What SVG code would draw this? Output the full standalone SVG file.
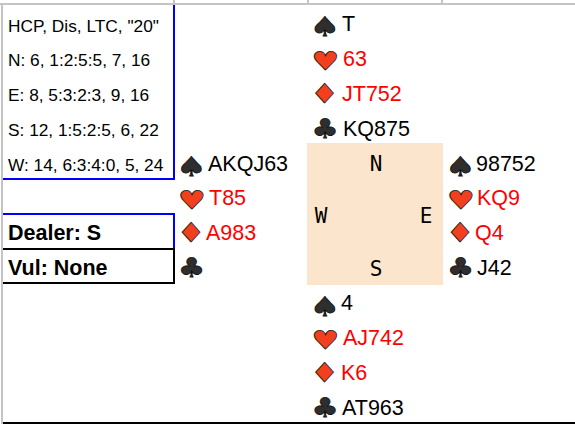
<svg xmlns="http://www.w3.org/2000/svg" width="575" height="424" viewBox="0 0 575 424">
<style>
.t{font-family:"Liberation Sans",Arial,sans-serif;font-size:21.5px;fill:#000}
.r{fill:#FF0000}
.info{font-family:"Liberation Sans",Arial,sans-serif;font-size:17.3px;fill:#000}
.bold{font-family:"Liberation Sans",Arial,sans-serif;font-size:21.5px;font-weight:bold;fill:#000}
.dir{font-family:"DejaVu Sans Mono",monospace;font-size:21px;fill:#000;text-anchor:middle}
.s{font-family:"DejaVu Sans",sans-serif;font-size:27px;text-anchor:middle;stroke-width:0.8px}
.sp{fill:#2e2e2e;stroke:#111;transform:scale(1.25,1)}
.cl{fill:#2e2e2e;stroke:#111;transform:scale(1.12,1)}
.he{fill:#F23F1E;stroke:#222;transform:scale(1.15,0.95)}
.di{fill:#F23F1E;stroke:#222;transform:scale(1.18,1)}
.grid{fill:#C4C4C4}
</style>
<rect width="575" height="424" fill="#fff"/>
<g id="grid">
<rect class="grid" x="0" y="3" width="575" height="2"/>
<rect class="grid" x="1" y="3" width="2" height="421"/>
<rect class="grid" x="173" y="0" width="2" height="4"/>
<rect class="grid" x="307" y="0" width="2" height="4"/>
<rect class="grid" x="441" y="0" width="2" height="4"/>
<rect x="3" y="422" width="572" height="2" fill="#000"/>
</g>
<g id="info-box">
<rect x="173" y="5" width="2" height="175" fill="#0000FF"/>
<rect x="3" y="178" width="172" height="2" fill="#0000FF"/>
<text class="info" x="8" y="31.5">HCP, Dis, LTC, "20"</text>
<text class="info" x="8" y="66">N: 6, 1:2:5:5, 7, 16</text>
<text class="info" x="8" y="101">E: 8, 5:3:2:3, 9, 16</text>
<text class="info" x="8" y="136">S: 12, 1:5:2:5, 6, 22</text>
<text class="info" x="8" y="171">W: 14, 6:3:4:0, 5, 24</text>
</g>
<g id="dealer-box">
<rect x="3" y="213" width="172" height="2" fill="#0000FF"/>
<rect x="173" y="213" width="2" height="36" fill="#0000FF"/>
<rect x="3" y="248" width="172" height="2" fill="#000"/>
<rect x="173" y="248" width="2" height="36" fill="#000"/>
<rect x="3" y="282" width="172" height="2" fill="#000"/>
<text class="bold" x="8" y="240.4">Dealer: S</text>
<text class="bold" x="8" y="275.3">Vul: None</text>
</g>
<g id="table">
<rect x="307" y="143" width="136" height="142" fill="#FCE5CD"/>
<text class="dir" x="376" y="170.7">N</text>
<text class="dir" x="321" y="223.3">W</text>
<text class="dir" x="426" y="223.3">E</text>
<text class="dir" x="376" y="276">S</text>
</g>
<g id="north">
<g transform="translate(324.5,36)"><text class="s sp">♠</text></g>
<g transform="translate(325.5,69.5)"><text class="s he">♥</text></g>
<g transform="translate(324.5,102.5)"><text class="s di">♦</text></g>
<g transform="translate(325,137.5)"><text class="s cl">♣</text></g>
<text class="t" x="342" y="30.7">T</text>
<text class="t r" x="343" y="65.65">63</text>
<text class="t r" x="342" y="100.6">JT752</text>
<text class="t" x="343" y="135.55">KQ875</text>
</g>
<g id="west">
<g transform="translate(191,175.8)"><text class="s sp">♠</text></g>
<g transform="translate(192,209.3)"><text class="s he">♥</text></g>
<g transform="translate(191,242.4)"><text class="s di">♦</text></g>
<g transform="translate(191.5,277.4)"><text class="s cl">♣</text></g>
<text class="t" x="208" y="170.5">AKQJ63</text>
<text class="t r" x="209" y="205.45">T85</text>
<text class="t r" x="206" y="240.4">A983</text>
</g>
<g id="east">
<g transform="translate(460,175.8)"><text class="s sp">♠</text></g>
<g transform="translate(461,209.3)"><text class="s he">♥</text></g>
<g transform="translate(460,242.4)"><text class="s di">♦</text></g>
<g transform="translate(460.5,277.4)"><text class="s cl">♣</text></g>
<text class="t" x="476" y="170.5">98752</text>
<text class="t r" x="477" y="205.45">KQ9</text>
<text class="t r" x="475" y="240.4">Q4</text>
<text class="t" x="477" y="275.35">J42</text>
</g>
<g id="south">
<g transform="translate(324.5,315.6)"><text class="s sp">♠</text></g>
<g transform="translate(325.5,349.1)"><text class="s he">♥</text></g>
<g transform="translate(324.5,382.2)"><text class="s di">♦</text></g>
<g transform="translate(325,417.2)"><text class="s cl">♣</text></g>
<text class="t" x="341" y="310.3">4</text>
<text class="t r" x="343" y="345.25">AJ742</text>
<text class="t r" x="341" y="380.2">K6</text>
<text class="t" x="342" y="415.15">AT963</text>
</g>
</svg>
